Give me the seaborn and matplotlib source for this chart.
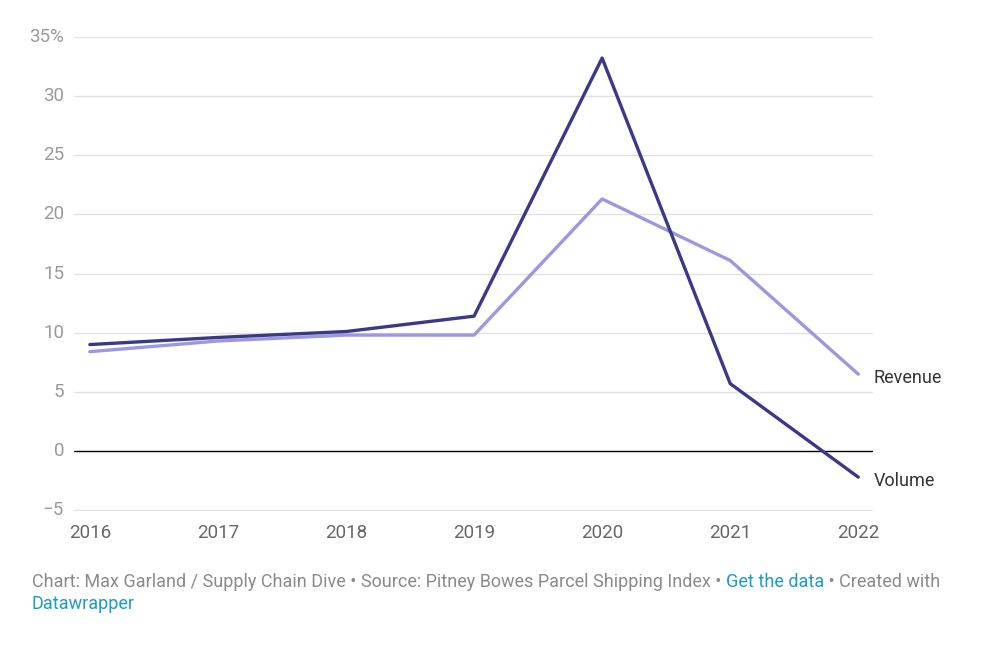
import numpy as np
import pandas as pd
import matplotlib.pyplot as plt
import seaborn as sns

# data (% change year over year)
years = [2016, 2017, 2018, 2019, 2020, 2021, 2022]
volume = [9.0, 9.6, 10.1, 11.4, 33.2, 5.7, -2.2]
revenue = [8.4, 9.3, 9.8, 9.8, 21.3, 16.1, 6.5]
y_ticks = [-5, 0, 5, 10, 15, 20, 25, 30, 35]
y_tick_labels = ["\u22125", "0", "5", "10", "15", "20", "25", "30", "35%"]

df = pd.DataFrame({
    "year": years * 2,
    "value": revenue + volume,
    "series": ["Revenue"] * len(years) + ["Volume"] * len(years),
})

sns.set_theme(style="white")
plt.rcParams['font.family'] = ['Roboto', 'DejaVu Sans']

palette = {"Revenue": "#9b98df", "Volume": "#3b3987"}

fig = plt.figure(figsize=(9.98, 6.45), dpi=100)
ax = fig.add_axes([0.074, 0.207, 0.801, 0.736])

sns.lineplot(data=df, x="year", y="value", hue="series", palette=palette,
             linewidth=2.4, legend=False, ax=ax, zorder=3)

ax.set_xlim(2015.875, 2022.117)
ax.set_ylim(-5.1, 35)
ax.set_yticks(y_ticks)
ax.set_yticklabels(y_tick_labels)
ax.set_xticks(years)
ax.set_xticklabels([str(y) for y in years])

for t in y_ticks:
    if t == 0:
        ax.axhline(0, color="#000000", linewidth=1.0, zorder=2)
    else:
        ax.axhline(t, color="#e1e1e1", linewidth=1.0, zorder=1)

for s in ax.spines.values():
    s.set_visible(False)
ax.tick_params(axis="y", length=0, pad=7, labelsize=13.5, labelcolor="#9a9a9a")
ax.tick_params(axis="x", length=0, pad=9, labelsize=13.5, labelcolor="#666666")
for lbl in ax.get_yticklabels():
    lbl.set_verticalalignment("center")
ax.set_xlabel("")
ax.set_ylabel("")

# line end labels
for name, vals in [("Revenue", revenue), ("Volume", volume)]:
    ax.annotate(name, xy=(years[-1], vals[-1]), xytext=(11, -3),
                textcoords="offset points", fontsize=13, color="#333333",
                va="center", ha="left", annotation_clip=False)

# footer
fy = 1 - 582 / 645
fig.text(0.032, fy, "Chart: Max Garland / Supply Chain Dive \u2022 Source: Pitney Bowes Parcel Shipping Index \u2022 ",
         fontsize=13, color="#8a8a8a", va="center", ha="left")
r = fig.canvas.get_renderer()
bb = fig.texts[-1].get_window_extent(renderer=r)
t1 = fig.text(bb.x1 / fig.bbox.width, fy, "Get the data", fontsize=13, color="#1a9cc3",
              va="center", ha="left")
bb = t1.get_window_extent(renderer=r)
fig.text(bb.x1 / fig.bbox.width, fy, " \u2022 Created with", fontsize=13,
         color="#8a8a8a", va="center", ha="left")
fig.text(0.032, 1 - 604 / 645, "Datawrapper", fontsize=13, color="#1a9cc3",
         va="center", ha="left")

fig.savefig("out.png", dpi=100, facecolor="white")
